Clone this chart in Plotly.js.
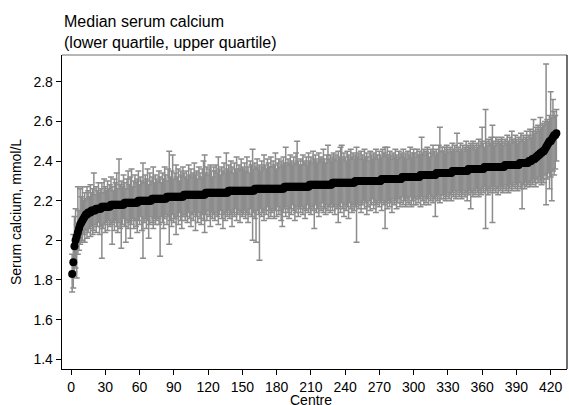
<!DOCTYPE html>
<html>
<head>
<meta charset="utf-8">
<script src="https://cdn.plot.ly/plotly-3.0.1.min.js"></script>
<style>html,body{margin:0;padding:0;background:#fff;}#chart{width:569px;height:405px;}</style>
</head>
<body>
<div id="chart"></div>
<script>
// Median serum calcium per centre (sorted ascending)
const medianCa = [
1.83,1.89,1.97,2.00,2.02,2.04,2.06,2.08,2.09,2.10,2.11,2.12,2.13,2.13,2.14,2.14,2.14,2.15,2.15,2.15,2.15,2.16,2.16,2.16,2.16,
2.16,2.17,2.17,2.17,2.17,2.17,2.17,2.17,2.17,2.18,2.18,2.18,2.18,2.18,2.18,2.18,2.18,2.18,2.18,2.18,2.18,2.19,2.19,2.19,2.19,
2.19,2.19,2.19,2.19,2.19,2.19,2.19,2.19,2.20,2.20,2.20,2.20,2.20,2.20,2.20,2.20,2.20,2.20,2.20,2.20,2.21,2.21,2.21,2.21,2.21,
2.21,2.21,2.21,2.21,2.21,2.21,2.21,2.21,2.22,2.22,2.22,2.22,2.22,2.22,2.22,2.22,2.22,2.22,2.22,2.22,2.22,2.22,2.22,2.23,2.23,
2.23,2.23,2.23,2.23,2.23,2.23,2.23,2.23,2.23,2.23,2.23,2.23,2.23,2.23,2.23,2.23,2.23,2.24,2.24,2.24,2.24,2.24,2.24,2.24,2.24,
2.24,2.24,2.24,2.24,2.24,2.24,2.24,2.24,2.24,2.24,2.24,2.24,2.25,2.25,2.25,2.25,2.25,2.25,2.25,2.25,2.25,2.25,2.25,2.25,2.25,
2.25,2.25,2.25,2.25,2.25,2.25,2.25,2.25,2.25,2.25,2.26,2.26,2.26,2.26,2.26,2.26,2.26,2.26,2.26,2.26,2.26,2.26,2.26,2.26,2.26,
2.26,2.26,2.26,2.26,2.26,2.26,2.26,2.26,2.26,2.26,2.26,2.27,2.27,2.27,2.27,2.27,2.27,2.27,2.27,2.27,2.27,2.27,2.27,2.27,2.27,
2.27,2.27,2.27,2.27,2.27,2.27,2.27,2.27,2.28,2.28,2.28,2.28,2.28,2.28,2.28,2.28,2.28,2.28,2.28,2.28,2.28,2.28,2.28,2.28,2.28,
2.28,2.28,2.28,2.29,2.29,2.29,2.29,2.29,2.29,2.29,2.29,2.29,2.29,2.29,2.29,2.29,2.29,2.29,2.29,2.29,2.29,2.29,2.29,2.30,2.30,
2.30,2.30,2.30,2.30,2.30,2.30,2.30,2.30,2.30,2.30,2.30,2.30,2.30,2.30,2.30,2.30,2.30,2.30,2.30,2.30,2.30,2.31,2.31,2.31,2.31,
2.31,2.31,2.31,2.31,2.31,2.31,2.31,2.31,2.31,2.31,2.31,2.31,2.31,2.31,2.32,2.32,2.32,2.32,2.32,2.32,2.32,2.32,2.32,2.32,2.32,
2.32,2.32,2.32,2.32,2.32,2.33,2.33,2.33,2.33,2.33,2.33,2.33,2.33,2.33,2.33,2.33,2.33,2.33,2.33,2.34,2.34,2.34,2.34,2.34,2.34,
2.34,2.34,2.34,2.34,2.34,2.34,2.34,2.34,2.35,2.35,2.35,2.35,2.35,2.35,2.35,2.35,2.35,2.35,2.35,2.35,2.35,2.35,2.36,2.36,2.36,
2.36,2.36,2.36,2.36,2.36,2.36,2.36,2.36,2.36,2.36,2.36,2.37,2.37,2.37,2.37,2.37,2.37,2.37,2.37,2.37,2.37,2.37,2.37,2.37,2.37,
2.37,2.37,2.37,2.37,2.38,2.38,2.38,2.38,2.38,2.38,2.38,2.38,2.38,2.38,2.38,2.38,2.38,2.39,2.39,2.39,2.39,2.39,2.39,2.39,2.39,
2.40,2.40,2.40,2.41,2.41,2.41,2.42,2.42,2.43,2.43,2.44,2.44,2.45,2.45,2.46,2.47,2.48,2.49,2.50,2.50,2.51,2.52,2.53,2.53,2.54
];
// Upper quartile per centre
const upperQ = [
1.93,2.03,2.12,2.16,2.08,2.27,2.15,2.26,2.22,2.27,2.20,2.24,2.21,2.27,2.25,2.22,2.28,2.24,2.26,2.34,2.23,2.27,2.25,2.29,2.24,
2.26,2.29,2.24,2.31,2.27,2.25,2.30,2.26,2.28,2.32,2.27,2.25,2.31,2.29,2.34,2.26,2.41,2.28,2.30,2.27,2.33,2.29,2.26,2.31,2.35,
2.28,2.32,2.36,2.27,2.30,2.33,2.29,2.31,2.35,2.28,2.32,2.30,2.39,2.29,2.33,2.31,2.36,2.28,2.34,2.30,2.32,2.37,2.29,2.33,2.31,
2.30,2.35,2.32,2.29,2.34,2.31,2.37,2.33,2.30,2.36,2.45,2.32,2.35,2.43,2.31,2.34,2.38,2.32,2.36,2.30,2.35,2.33,2.37,2.34,2.32,
2.35,2.31,2.38,2.33,2.36,2.32,2.34,2.39,2.33,2.35,2.31,2.37,2.34,2.32,2.36,2.40,2.43,2.34,2.37,2.33,2.36,2.38,2.35,2.32,2.37,
2.35,2.38,2.34,2.42,2.36,2.33,2.37,2.35,2.39,2.34,2.44,2.36,2.38,2.35,2.40,2.37,2.34,2.39,2.36,2.42,2.35,2.38,2.36,2.41,2.37,
2.36,2.39,2.35,2.42,2.37,2.34,2.40,2.38,2.46,2.36,2.39,2.37,2.41,2.36,2.38,2.35,2.40,2.37,2.43,2.38,2.36,2.41,2.39,2.37,2.42,
2.37,2.40,2.38,2.44,2.36,2.39,2.41,2.37,2.40,2.38,2.42,2.39,2.47,2.38,2.41,2.39,2.43,2.40,2.38,2.42,2.39,2.44,2.50,2.40,2.38,
2.41,2.38,2.43,2.40,2.39,2.42,2.38,2.44,2.40,2.42,2.39,2.45,2.41,2.43,2.40,2.39,2.44,2.41,2.42,2.40,2.46,2.41,2.39,2.43,2.48,
2.41,2.43,2.40,2.42,2.44,2.41,2.43,2.40,2.45,2.42,2.47,2.48,2.41,2.44,2.42,2.40,2.45,2.43,2.41,2.46,2.42,2.44,2.41,2.43,2.47,
2.42,2.44,2.41,2.45,2.43,2.41,2.46,2.42,2.44,2.42,2.40,2.45,2.43,2.41,2.44,2.42,2.46,2.43,2.41,2.45,2.43,2.42,2.46,2.44,2.47,
2.43,2.47,2.42,2.45,2.43,2.41,2.44,2.42,2.46,2.43,2.41,2.45,2.42,2.44,2.43,2.46,2.42,2.44,2.41,2.45,2.43,2.47,2.42,2.44,2.46,
2.44,2.42,2.46,2.43,2.45,2.43,2.52,2.44,2.46,2.43,2.45,2.47,2.44,2.42,2.46,2.44,2.48,2.45,2.43,2.46,2.44,2.48,2.57,2.45,2.47,
2.45,2.47,2.44,2.48,2.46,2.44,2.47,2.45,2.49,2.46,2.48,2.45,2.54,2.47,2.45,2.49,2.46,2.48,2.45,2.47,2.50,2.46,2.48,2.47,2.49,
2.47,2.50,2.48,2.46,2.49,2.47,2.51,2.48,2.50,2.57,2.49,2.47,2.66,2.50,2.48,2.51,2.49,2.52,2.58,2.50,2.48,2.52,2.49,2.51,2.50,
2.49,2.52,2.50,2.48,2.51,2.49,2.53,2.50,2.52,2.49,2.55,2.51,2.50,2.53,2.51,2.49,2.52,2.50,2.54,2.51,2.53,2.50,2.52,2.55,2.51,
2.53,2.56,2.52,2.55,2.61,2.54,2.57,2.55,2.58,2.56,2.62,2.57,2.59,2.58,2.60,2.89,2.61,2.60,2.63,2.75,2.62,2.71,2.65,2.63,2.66
];
// Lower quartile per centre
const lowerQ = [
1.74,1.76,1.84,1.86,1.81,1.93,1.95,1.98,1.99,2.00,2.03,1.99,2.05,2.01,2.04,2.06,2.02,2.07,2.03,2.05,2.08,2.04,2.07,2.09,2.03,
2.07,1.91,2.06,2.08,2.04,2.09,2.05,2.10,2.07,2.08,1.98,2.09,2.05,2.10,2.07,2.04,2.09,2.06,1.96,2.08,2.11,2.07,1.99,2.10,2.06,
2.09,2.01,2.08,2.11,2.06,2.10,2.07,2.04,2.10,2.08,2.12,2.05,1.91,2.09,2.11,2.06,2.10,2.01,2.08,2.12,2.09,2.06,2.11,2.08,2.10,
2.11,2.08,1.92,2.12,2.09,2.06,2.11,2.13,2.08,2.12,1.98,2.10,2.07,2.13,2.09,2.11,2.03,2.12,2.08,2.14,2.10,2.06,2.12,2.13,2.10,
2.12,2.09,2.14,2.11,2.07,2.13,2.10,2.14,2.05,2.12,2.09,2.14,2.11,2.08,2.13,2.10,2.04,2.13,2.10,2.15,2.12,2.07,2.14,2.11,2.13,
2.10,2.14,2.12,2.08,2.13,2.15,2.11,2.06,2.13,2.10,2.14,2.12,2.15,2.11,2.13,2.07,2.14,2.12,2.16,2.10,2.13,2.15,2.09,2.14,2.12,
2.13,2.15,2.11,2.14,2.09,2.13,2.16,2.12,2.00,2.14,2.11,1.99,2.15,2.13,1.90,2.16,2.12,2.14,2.10,2.15,2.13,2.17,2.11,2.15,2.12,
2.14,2.16,2.11,2.15,2.12,2.17,2.13,2.15,2.10,2.07,2.14,2.16,2.12,2.17,2.14,2.11,2.16,2.13,2.18,2.15,2.10,2.14,2.17,2.12,2.16,
2.14,2.17,2.13,2.16,2.11,2.15,2.18,2.14,2.16,2.13,2.17,2.15,2.06,2.18,2.14,2.16,2.12,2.17,2.15,2.19,2.14,2.16,2.13,2.18,2.15,
2.17,2.14,2.18,2.15,2.17,2.13,2.18,2.16,2.09,2.17,2.14,2.19,2.16,2.12,2.18,2.15,2.17,2.11,2.19,2.16,2.14,2.18,2.15,2.17,1.99,
2.18,2.16,2.19,2.14,2.18,2.20,2.16,2.19,2.13,2.17,2.20,2.15,2.18,2.21,2.16,2.19,2.14,2.18,2.20,2.17,2.19,2.15,2.20,2.18,2.06,
2.19,2.16,2.20,2.17,2.19,2.14,2.21,2.18,2.20,2.16,2.19,2.21,2.17,2.19,2.22,2.18,2.20,2.17,2.21,2.19,2.18,2.22,2.17,2.20,2.18,
2.21,2.18,2.22,2.19,2.21,2.17,2.22,2.20,2.18,2.22,2.19,2.21,2.18,2.23,2.20,2.22,2.19,2.21,2.12,2.22,2.20,2.23,2.19,2.21,2.23,
2.21,2.23,2.20,2.22,2.24,2.21,2.23,2.20,2.24,2.22,2.25,2.21,2.23,2.25,2.22,2.24,2.21,2.23,2.25,2.22,2.24,2.20,2.23,2.25,2.16,
2.24,2.22,2.25,2.23,2.26,2.24,2.22,2.25,2.23,2.26,2.24,2.27,2.06,2.25,2.23,2.26,2.24,2.27,2.09,2.25,2.27,2.24,2.26,2.23,2.27,
2.25,2.27,2.24,2.26,2.28,2.25,2.27,2.24,2.26,2.28,2.25,2.27,2.29,2.26,2.28,2.25,2.27,2.29,2.26,2.16,2.28,2.26,2.29,2.27,2.28,
2.29,2.27,2.30,2.28,2.31,2.29,2.27,2.31,2.29,2.32,2.30,2.28,2.31,2.29,2.33,2.18,2.31,2.34,2.26,2.32,2.20,2.35,2.33,2.36,2.40
];
const xTickVals = [0,30,60,90,120,150,180,210,240,270,300,330,360,390,420];
const yTickVals = [1.4,1.6,1.8,2.0,2.2,2.4,2.6,2.8];

const centre = medianCa.map((_, i) => i + 1);
const errPlus = upperQ.map((u, i) => u - medianCa[i]);
const errMinus = lowerQ.map((l, i) => medianCa[i] - l);

const FONT = 'Liberation Sans, Arial, Helvetica, sans-serif';

const traces = [
  {
    x: centre, y: medianCa, type: 'scatter', mode: 'markers',
    marker: {color: '#000', size: 8, opacity: 0},
    error_y: {type: 'data', symmetric: false, array: errPlus, arrayminus: errMinus,
              color: '#8c8c8c', thickness: 1.5, width: 3},
    hoverinfo: 'skip', showlegend: false
  },
  {
    x: centre, y: medianCa, type: 'scatter', mode: 'markers',
    marker: {color: '#000', size: 8},
    showlegend: false
  }
];

const layout = {
  width: 569, height: 405,
  margin: {l: 62, r: 2, t: 55, b: 36},
  paper_bgcolor: '#fff', plot_bgcolor: '#fff',
  font: {family: FONT, size: 14, color: '#000'},
  xaxis: {
    range: [-7.9, 434.3], tickmode: 'array', tickvals: xTickVals,
    ticks: 'outside', ticklen: 5, tickwidth: 1, tickcolor: '#000',
    showline: true, linecolor: '#000', linewidth: 1.3,
    showgrid: false, zeroline: false, automargin: false,
    tickfont: {family: FONT, size: 14, color: '#000'}
  },
  yaxis: {
    range: [1.351, 2.935], tickmode: 'array', tickvals: yTickVals,
    ticktext: yTickVals.map(v => String(+v.toFixed(1))),
    ticks: 'outside', ticklen: 5, tickwidth: 1, tickcolor: '#000',
    showline: true, linecolor: '#000', linewidth: 1.3,
    showgrid: false, zeroline: false, automargin: false,
    tickfont: {family: FONT, size: 14, color: '#000'},
    title: {text: 'Serum calcium, mmol/L', standoff: 8, font: {family: FONT, size: 14, color: '#000'}}
  },
  annotations: [
    {
      text: 'Median serum calcium<br>(lower quartile, upper quartile)',
      xref: 'paper', yref: 'paper', x: 0, y: 1, xanchor: 'left', yanchor: 'bottom',
      yshift: 2, align: 'left', showarrow: false,
      font: {family: FONT, size: 16, color: '#000'}
    },
    {
      text: 'Centre',
      xref: 'paper', yref: 'paper', x: 0.494, y: 0, xanchor: 'center', yanchor: 'top',
      yshift: -21, showarrow: false,
      font: {family: FONT, size: 14, color: '#000'}
    }
  ],
  shapes: [
    {type: 'line', xref: 'paper', yref: 'paper', x0: 0, x1: 1, y0: 1, y1: 1, line: {color: '#6e6e6e', width: 1}},
    {type: 'line', xref: 'paper', yref: 'paper', x0: 1, x1: 1, y0: 0, y1: 1, line: {color: '#222', width: 1.3}}
  ]
};

Plotly.newPlot('chart', traces, layout, {displayModeBar: false, staticPlot: true});
</script>
</body>
</html>
